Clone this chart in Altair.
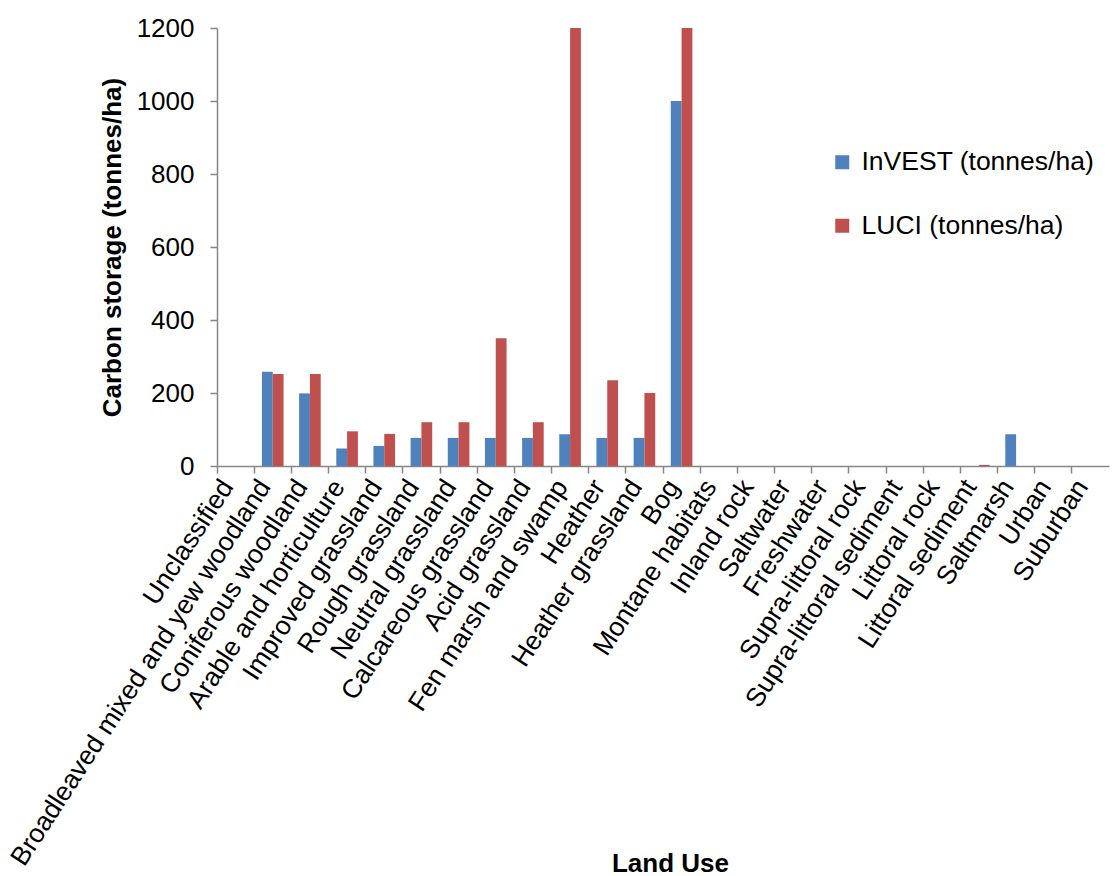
import altair as alt
import pandas as pd

categories = [
    "Unclassified", "Broadleaved mixed and yew woodland", "Coniferous woodland",
    "Arable and horticulture", "Improved grassland", "Rough grassland",
    "Neutral grassland", "Calcareous grassland", "Acid grassland",
    "Fen marsh and swamp", "Heather", "Heather grassland", "Bog",
    "Montane habitats", "Inland rock", "Saltwater", "Freshwater",
    "Supra-littoral rock", "Supra-littoral sediment", "Littoral rock",
    "Littoral sediment", "Saltmarsh", "Urban", "Suburban",
]
invest = [0, 258, 199, 48, 55, 77, 77, 77, 77, 87, 77, 77, 1000,
          0, 0, 0, 0, 0, 0, 0, 0, 87, 0, 0]
luci = [0, 252, 252, 95, 88, 120, 120, 350, 120, 1200, 235, 200, 1200,
        0, 0, 0, 0, 0, 0, 0, 3, 0, 0, 0]
series = ["InVEST (tonnes/ha)", "LUCI (tonnes/ha)"]
colors = ["#4F81BD", "#C0504D"]

rows = []
for c, a, b in zip(categories, invest, luci):
    rows.append({"cat": c, "series": series[0], "value": a})
    rows.append({"cat": c, "series": series[1], "value": b})
df = pd.DataFrame(rows)

FONT = "Liberation Sans"
AXIS_GRAY = "#868686"

chart = alt.Chart(df).mark_bar(clip=True).encode(
    x=alt.X("cat:N", sort=categories,
            scale=alt.Scale(paddingInner=0, paddingOuter=0),
            axis=alt.Axis(title="Land Use", labelAngle=-57, labelFontSize=26.5,
                          labelFont=FONT, labelColor="black", labelLimit=700,
                          labelPadding=9, labelOffset=-8, tickSize=7,
                          tickColor=AXIS_GRAY,
                          domainColor=AXIS_GRAY, domainWidth=1.5, tickWidth=1.5,
                          bandPosition=0, titleFont=FONT, titleFontSize=26,
                          titleFontWeight="bold", titleColor="black",
                          titleY=384, titleX=453)),
    xOffset=alt.XOffset("series:N", sort=series,
                        scale=alt.Scale(paddingInner=0, paddingOuter=0.72)),
    y=alt.Y("value:Q", scale=alt.Scale(domain=[0, 1200], nice=False),
            axis=alt.Axis(title="Carbon storage (tonnes/ha)", values=[0, 200, 400, 600, 800, 1000, 1200],
                          format="d", grid=False, labelFontSize=26, labelFont=FONT,
                          labelColor="black", labelPadding=16, tickSize=7,
                          tickColor=AXIS_GRAY, domainColor=AXIS_GRAY,
                          domainWidth=1.5, tickWidth=1.5, titleFont=FONT,
                          titleFontSize=26, titleFontWeight="bold",
                          titleColor="black", titlePadding=11)),
    color=alt.Color("series:N", sort=series,
                    scale=alt.Scale(domain=series, range=colors),
                    legend=alt.Legend(title=None, orient="none", legendX=612,
                                      legendY=121, labelFontSize=26.5,
                                      labelFont=FONT, labelColor="black",
                                      labelLimit=500,
                                      symbolType="square", symbolSize=196,
                                      symbolStrokeWidth=0, rowPadding=36.5,
                                      labelOffset=6)),
).properties(
    width=892, height=438,
    autosize=alt.AutoSizeParams(type="none"),
    padding={"left": 209, "top": 20, "right": 2, "bottom": 420},
).configure_view(stroke=None)

chart.save("out.html", embed_options={"renderer": "svg", "actions": False})
